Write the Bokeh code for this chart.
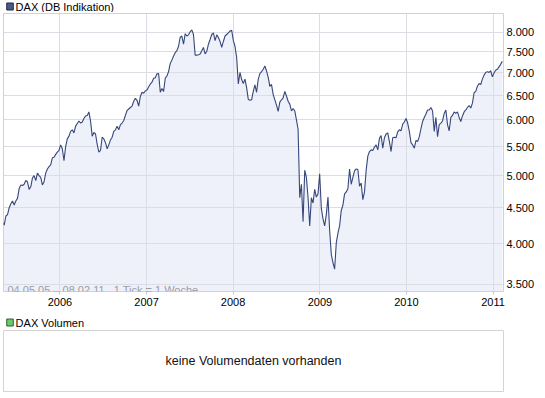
import pandas as pd
from bokeh.core.properties import value
from bokeh.embed import file_html
from bokeh.layouts import column
from bokeh.models import (ColumnDataSource, DatetimeTickFormatter, FixedTicker,
                          Label, Range1d)
from bokeh.plotting import figure
from bokeh.resources import INLINE

# ---------------- data (weekly closes) ----------------
first_week = "2005-05-04"

dax_2005 = [4290, 4250, 4380, 4400, 4500, 4560, 4600, 4540, 4600, 4640,
            4790, 4850, 4840, 4860, 4920, 4900, 4780, 4820, 4960, 5000,
            4920, 5040, 5000, 4970, 4850, 4900, 5040, 5110, 5150, 5180,
            5300, 5310, 5360, 5400, 5430]
dax_2006 = [5530, 5460, 5250, 5500, 5640, 5690, 5780, 5810, 5750, 5880,
            5930, 5980, 5940, 5960, 6030, 6080, 6090, 6160, 5980, 5690,
            5760, 5730, 5540, 5400, 5430, 5670, 5640, 5570, 5460, 5530,
            5620, 5670, 5780, 5810, 5880, 5810, 5910, 5940, 5990, 6090,
            6190, 6220, 6250, 6280, 6380, 6440, 6400, 6280, 6480, 6570,
            6550, 6600]
dax_2007 = [6620, 6690, 6750, 6790, 6880, 6890, 6980, 6985, 6570, 6650,
            6590, 6880, 6930, 7030, 7220, 7300, 7400, 7480, 7530, 7640,
            7870, 7900, 7690, 7960, 7900, 7930, 8010, 8060, 7940, 7420,
            7420, 7430, 7450, 7530, 7610, 7450, 7510, 7690, 7810, 7940,
            7980, 7780, 7930, 7860, 7760, 7610, 7760, 7900, 7940, 7980,
            8030, 8050]
dax_2008 = [7780, 7640, 7360, 6750, 7010, 6850, 6760, 6860, 6670, 6420,
            6400, 6410, 6590, 6730, 6570, 6860, 6985, 7030, 7085, 7160,
            7045, 6900, 6700, 6740, 6520, 6410, 6300, 6170, 6360, 6410,
            6450, 6590, 6490, 6380, 6320, 6180, 6230, 6180, 6000, 5820,
            4650, 4860, 4300, 5090, 4970, 4650, 4240, 4650, 4570, 4780,
            4660, 4710, 5030]
dax_2009 = [4490, 4340, 4240, 4400, 4660, 4180, 3860, 3760, 3680, 4010,
            4140, 4240, 4460, 4540, 4710, 4740, 4790, 5110, 4860, 4970,
            5080, 5110, 5100, 4830, 4880, 4620, 4740, 5090, 5330, 5410,
            5440, 5430, 5490, 5530, 5440, 5650, 5700, 5470, 5660, 5730,
            5750, 5590, 5410, 5660, 5670, 5660, 5770, 5810, 5790, 5920,
            5960, 6030]
dax_2010 = [5940, 5780, 5570, 5530, 5470, 5610, 5590, 5680, 5830, 5970,
            6050, 6120, 6200, 6200, 6250, 6180, 5780, 6050, 5680, 5910,
            5940, 5980, 6130, 6200, 5910, 5790, 6050, 6090, 6160, 6130,
            6160, 6050, 5970, 6080, 6160, 6200, 6250, 6290, 6240, 6340,
            6560, 6590, 6700, 6760, 6740, 6860, 6950, 7010, 7030, 7010,
            7050, 6910]
dax_2011 = [7000, 7060, 7085, 7140, 7200, 7270]

y_ticks = [3500, 4000, 4500, 5000, 5500, 6000, 6500, 7000, 7500, 8000]
y_tick_labels = ["3.500", "4.000", "4.500", "5.000", "5.500",
                 "6.000", "6.500", "7.000", "7.500", "8.000"]
x_years = [2006, 2007, 2008, 2009, 2010, 2011]

title_main = "DAX (DB Indikation)"
title_vol = "DAX Volumen"
caption = "04.05.05 \u2013 08.02.11\u00a0\u00a0\u00a01 Tick = 1 Woche"
no_data = "keine Volumendaten vorhanden"

# ---------------- build ----------------
closes = dax_2005 + dax_2006 + dax_2007 + dax_2008 + dax_2009 + dax_2010 + dax_2011
dates = pd.date_range(first_week, periods=len(closes), freq="7D")

FONT = "Liberation Sans"
W = 537
Y_LO, Y_HI = 3420, 8505


def header(label, fill, line, height, text_y):
    h = figure(width=W, height=height, x_range=Range1d(0, W), y_range=Range1d(0, height),
               toolbar_location=None, output_backend="svg",
               x_axis_location=None, y_axis_location=None,
               min_border_left=0, min_border_right=0, min_border_top=0,
               min_border_bottom=0)
    h.grid.visible = False
    h.outline_line_color = None
    h.border_fill_color = "white"
    h.background_fill_color = "white"
    h.quad(left=[3.5], right=[10.5], bottom=[text_y - 3.5], top=[text_y + 3.5],
           fill_color=fill, line_color=line, line_width=1)
    h.text(x=[13], y=[text_y], text=[label], text_font=value(FONT),
           text_font_size="11px", text_color="#000000", text_baseline="middle")
    return h


head_main = header(title_main, "#4a5a88", "#1c2744", 12, 6)

src = ColumnDataSource(dict(date=dates, close=closes, base=[Y_LO] * len(closes)))

p = figure(width=W, height=300, x_axis_type="datetime", y_axis_type="log",
           y_axis_location="right",
           x_range=Range1d(pd.Timestamp("2005-05-08"), pd.Timestamp("2011-02-14")),
           y_range=Range1d(Y_LO, Y_HI),
           toolbar_location=None, output_backend="svg",
           min_border_left=3, min_border_right=34, min_border_top=1,
           min_border_bottom=21)
p.background_fill_color = "white"
p.border_fill_color = "white"
p.outline_line_color = "#d2d2d6"

area = p.varea(x="date", y1="base", y2="close", source=src,
               fill_color="#c8d2ef", fill_alpha=0.3)
area.level = "image"
p.line("date", "close", source=src, line_color="#37477a", line_width=1.1)

p.grid.grid_line_color = "#dcdde4"
p.grid.grid_line_width = 1

year_ticks = [pd.Timestamp(f"{y}-01-01").value // 10**6 for y in x_years]
p.xaxis.ticker = FixedTicker(ticks=year_ticks)
p.xaxis.formatter = DatetimeTickFormatter(years="%Y", months="%Y", days="%Y")
p.xaxis.axis_line_color = None
p.xaxis.major_tick_in = 0
p.xaxis.major_tick_out = 3
p.xaxis.major_tick_line_color = "#c8c8cc"
p.xaxis.minor_tick_line_color = None
p.xaxis.minor_tick_out = 0
p.xaxis.major_label_standoff = 3
p.xaxis.major_label_text_font = FONT
p.xaxis.major_label_text_font_size = "11px"
p.xaxis.major_label_text_color = "#000000"

p.yaxis.ticker = FixedTicker(ticks=y_ticks)
p.yaxis.major_label_overrides = dict(zip(y_ticks, y_tick_labels))
p.yaxis.axis_line_color = None
p.yaxis.major_tick_line_color = None
p.yaxis.major_tick_in = 0
p.yaxis.major_tick_out = 0
p.yaxis.minor_tick_line_color = None
p.yaxis.minor_tick_in = 0
p.yaxis.minor_tick_out = 0
p.yaxis.major_label_standoff = 3
p.yaxis.major_label_text_font = FONT
p.yaxis.major_label_text_font_size = "11px"
p.yaxis.major_label_text_color = "#000000"

p.add_layout(Label(x=4, y=2, x_units="screen", y_units="screen", text=caption,
                   text_font=FONT, text_font_size="11px", text_color="#9c9ca6",
                   text_baseline="alphabetic"))

head_vol = header(title_vol, "#66cc66", "#2e5e2e", 17, 7)

v = figure(width=W, height=63, x_range=Range1d(0, 1), y_range=Range1d(0, 1),
           toolbar_location=None, output_backend="svg",
           x_axis_location=None, y_axis_location=None,
           min_border_left=3, min_border_right=34, min_border_top=1,
           min_border_bottom=1)
v.grid.visible = False
v.outline_line_color = "#d4d4d4"
v.background_fill_color = "white"
v.border_fill_color = "white"
v.add_layout(Label(x=0.5, y=0.5, text=no_data, text_align="center",
                   text_baseline="middle", text_font=FONT,
                   text_font_size="12.5px", text_color="#111111"))

layout = column(head_main, p, head_vol, v)
open("out.html", "w").write(file_html(layout, INLINE))
